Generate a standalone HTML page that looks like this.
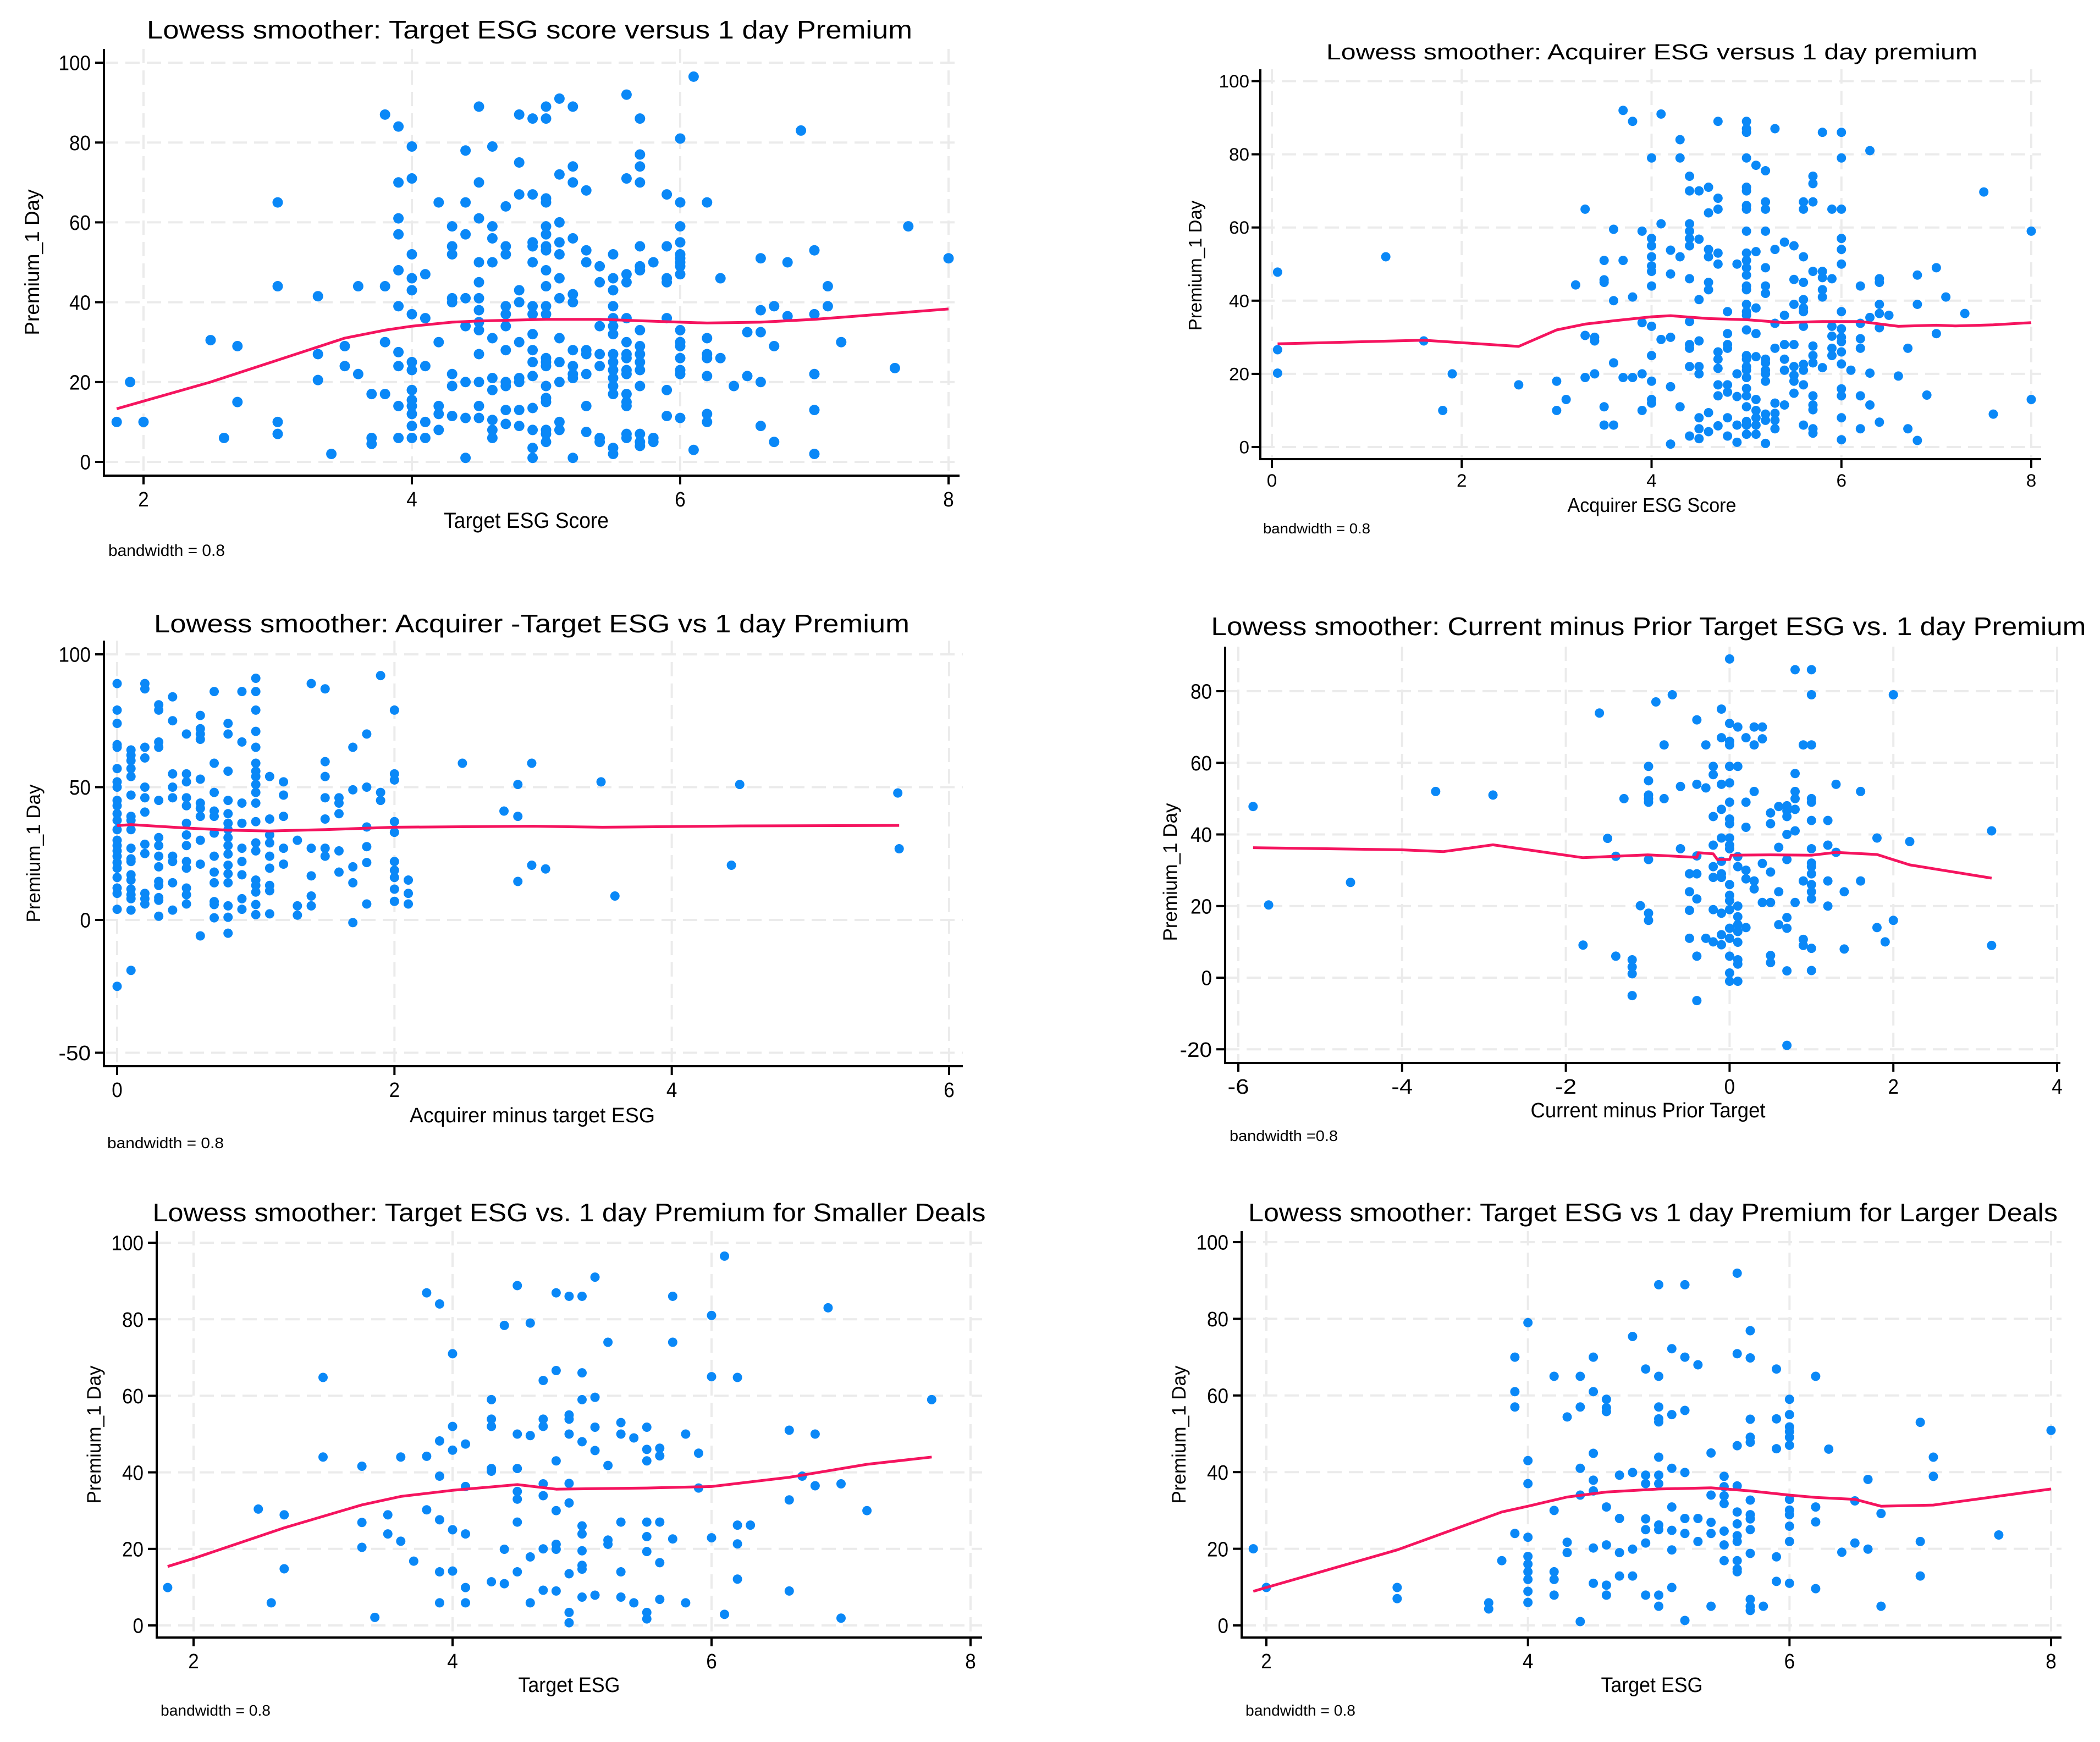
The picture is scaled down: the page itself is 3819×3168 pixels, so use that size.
<!DOCTYPE html>
<html><head><meta charset="utf-8"><title>Lowess smoother panels</title>
<style>
html,body{margin:0;padding:0;background:#fff;}
svg{display:block;font-family:"Liberation Sans",sans-serif;}
</style></head>
<body>
<svg id="fig" xmlns="http://www.w3.org/2000/svg" width="3819" height="3168" viewBox="0 0 3819 3168">
<rect x="0" y="0" width="3819" height="3168" fill="#fff"/>
<g id="layer"></g>

<text x="963" y="70" font-size="46" text-anchor="middle" textLength="1392" lengthAdjust="spacingAndGlyphs">Lowess smoother:  Target ESG score versus 1 day Premium</text>
<text x="957" y="960" font-size="40" text-anchor="middle" textLength="300" lengthAdjust="spacingAndGlyphs">Target ESG Score</text>
<text transform="translate(71,477) rotate(-90)" font-size="37" text-anchor="middle">Premium_1 Day</text>
<text x="197" y="1011" font-size="30" textLength="212" lengthAdjust="spacingAndGlyphs">bandwidth = 0.8</text>

<text x="3004" y="108" font-size="40" text-anchor="middle" textLength="1184" lengthAdjust="spacingAndGlyphs">Lowess smoother:  Acquirer ESG versus 1 day premium</text>
<text x="3004" y="931" font-size="36" text-anchor="middle" textLength="307" lengthAdjust="spacingAndGlyphs">Acquirer ESG Score</text>
<text transform="translate(2185,483) rotate(-90)" font-size="33" text-anchor="middle">Premium_1 Day</text>
<text x="2297" y="970" font-size="26" textLength="195" lengthAdjust="spacingAndGlyphs">bandwidth = 0.8</text>

<text x="967" y="1150" font-size="46" text-anchor="middle" textLength="1374" lengthAdjust="spacingAndGlyphs">Lowess smoother:  Acquirer -Target ESG vs 1 day Premium</text>
<text x="968" y="2041" font-size="38" text-anchor="middle" textLength="446" lengthAdjust="spacingAndGlyphs">Acquirer minus target ESG</text>
<text transform="translate(73,1552) rotate(-90)" font-size="35" text-anchor="middle">Premium_1 Day</text>
<text x="195" y="2088" font-size="28" textLength="212" lengthAdjust="spacingAndGlyphs">bandwidth = 0.8</text>

<text x="2998" y="1155" font-size="46" text-anchor="middle" textLength="1591" lengthAdjust="spacingAndGlyphs">Lowess smoother:  Current minus Prior Target ESG vs. 1 day Premium</text>
<text x="2997" y="2032" font-size="38" text-anchor="middle" textLength="427" lengthAdjust="spacingAndGlyphs">Current minus Prior Target</text>
<text transform="translate(2140,1586) rotate(-90)" font-size="35" text-anchor="middle">Premium_1 Day</text>
<text x="2236" y="2075" font-size="28" textLength="197" lengthAdjust="spacingAndGlyphs">bandwidth =0.8</text>

<text x="1035" y="2221" font-size="46" text-anchor="middle" textLength="1515" lengthAdjust="spacingAndGlyphs">Lowess smoother:  Target ESG vs. 1 day Premium for Smaller Deals</text>
<text x="1035" y="3077" font-size="38" text-anchor="middle" textLength="185" lengthAdjust="spacingAndGlyphs">Target ESG</text>
<text transform="translate(183,2609) rotate(-90)" font-size="35" text-anchor="middle">Premium_1 Day</text>
<text x="292" y="3120" font-size="28" textLength="200" lengthAdjust="spacingAndGlyphs">bandwidth = 0.8</text>

<text x="3006" y="2221" font-size="46" text-anchor="middle" textLength="1472" lengthAdjust="spacingAndGlyphs">Lowess smoother:  Target ESG vs 1 day Premium for Larger Deals</text>
<text x="3004" y="3077" font-size="38" text-anchor="middle" textLength="185" lengthAdjust="spacingAndGlyphs">Target ESG</text>
<text transform="translate(2156,2609) rotate(-90)" font-size="35" text-anchor="middle">Premium_1 Day</text>
<text x="2265" y="3120" font-size="28" textLength="200" lengthAdjust="spacingAndGlyphs">bandwidth = 0.8</text>
</svg>

<script>
// ---------- DATA ----------
const p1XTicks = [2,4,6,8];
const p1YTicks = [0,20,40,60,80,100];
const p1Points = [[1.8,10],[1.9,20],[2,10],[2.5,30.5],[2.6,6],[2.7,29],[2.7,15],[3,65],[3,44],[3,10],[3,7],[3.3,41.5],[3.3,27],[3.3,20.5],[3.4,2],[3.5,29],[3.5,24],[3.6,44],[3.6,22],[3.7,17],[3.7,6],[3.7,4.5],[3.8,87],[3.8,44],[3.8,30],[3.8,17],[3.9,84],[3.9,70],[3.9,61],[3.9,57],[3.9,48],[3.9,39],[3.9,27.5],[3.9,24],[3.9,14],[3.9,6],[4,79],[4,71],[4,52],[4,46],[4,43],[4,37],[4,25],[4,23],[4,18],[4,15.5],[4,14],[4,12],[4,9],[4,6],[4.1,47],[4.1,36],[4.1,24],[4.1,10],[4.1,6],[4.2,65],[4.2,30],[4.2,14],[4.2,12],[4.2,8],[4.3,59],[4.3,54],[4.3,52],[4.3,41],[4.3,40],[4.3,22],[4.3,19],[4.3,11.5],[4.4,78],[4.4,65],[4.4,57],[4.4,41],[4.4,34],[4.4,20],[4.4,11],[4.4,1],[4.5,89],[4.5,70],[4.5,61],[4.5,50],[4.5,45],[4.5,41],[4.5,38],[4.5,35],[4.5,33],[4.5,27],[4.5,20],[4.5,14],[4.5,11],[4.6,79],[4.6,59],[4.6,56],[4.6,50],[4.6,31],[4.6,21],[4.6,18],[4.6,10.5],[4.6,8],[4.6,6],[4.7,64],[4.7,54],[4.7,52],[4.7,39],[4.7,37],[4.7,34],[4.7,28],[4.7,20],[4.7,19],[4.7,13],[4.7,9.5],[4.8,87],[4.8,75],[4.8,67],[4.8,43],[4.8,40],[4.8,30],[4.8,21],[4.8,20],[4.8,13],[4.8,9],[4.9,86],[4.9,67],[4.9,55],[4.9,54],[4.9,50],[4.9,39],[4.9,37],[4.9,32],[4.9,28],[4.9,25],[4.9,21.5],[4.9,13.5],[4.9,8],[4.9,3.5],[4.9,1],[5,89],[5,86],[5,66],[5,65],[5,59],[5,57],[5,54],[5,53],[5,48],[5,44],[5,39],[5,37],[5,26],[5,25],[5,24],[5,19],[5,16],[5,15],[5,8],[5,7],[5,5],[5.1,91],[5.1,72],[5.1,60],[5.1,55],[5.1,52],[5.1,46],[5.1,41],[5.1,31],[5.1,25],[5.1,20],[5.1,10],[5.1,8],[5.2,89],[5.2,74],[5.2,70],[5.2,56],[5.2,42],[5.2,40],[5.2,28],[5.2,24],[5.2,22],[5.2,21],[5.2,1],[5.3,68],[5.3,53],[5.3,50],[5.3,28],[5.3,27],[5.3,22],[5.3,14],[5.3,7.5],[5.4,49],[5.4,45],[5.4,34],[5.4,27],[5.4,24],[5.4,6],[5.4,5],[5.5,52],[5.5,46],[5.5,43],[5.5,39],[5.5,36],[5.5,34],[5.5,32],[5.5,27],[5.5,25],[5.5,23],[5.5,21],[5.5,19],[5.5,17],[5.5,3.5],[5.5,2],[5.6,92],[5.6,71],[5.6,47],[5.6,45],[5.6,36],[5.6,30],[5.6,27],[5.6,26],[5.6,23],[5.6,22],[5.6,17],[5.6,15],[5.6,14],[5.6,7],[5.6,6],[5.7,86],[5.7,77],[5.7,74],[5.7,70],[5.7,54],[5.7,49],[5.7,48],[5.7,33],[5.7,29],[5.7,27],[5.7,25],[5.7,23],[5.7,19],[5.7,7],[5.7,5],[5.7,4],[5.8,50],[5.8,6],[5.8,5],[5.9,67],[5.9,54],[5.9,46],[5.9,45],[5.9,36],[5.9,18],[5.9,11.5],[6,81],[6,65],[6,59],[6,55],[6,52],[6,51],[6,50],[6,49],[6,47],[6,33],[6,30],[6,29],[6,26],[6,23],[6,22],[6,11],[6.1,96.5],[6.1,3],[6.2,65],[6.2,31],[6.2,27],[6.2,26],[6.2,21.5],[6.2,12],[6.2,10],[6.3,46],[6.3,26],[6.4,19],[6.5,32.5],[6.5,21.5],[6.6,51],[6.6,38],[6.6,32.5],[6.6,20],[6.6,9],[6.7,39],[6.7,29],[6.7,5],[6.8,50],[6.8,36.5],[6.9,83],[7,53],[7,37],[7,22],[7,13],[7,2],[7.1,44],[7.1,39],[7.2,30],[7.6,23.5],[7.7,59],[8,51]];
const p1Lowess = [[1.8,13.3],[2.5,20],[3,25.5],[3.5,31],[3.8,33],[4,34],[4.3,35],[4.5,35.3],[5,35.7],[5.4,35.7],[6,35],[6.2,34.8],[6.6,35],[7,35.7],[7.5,37],[8,38.3]];

const p2XTicks = [0,2,4,6,8];
const p2YTicks = [0,20,40,60,80,100];
const p2Points = [[0.06,47.8],[0.06,26.6],[0.06,20.2],[1.2,52],[1.6,29],[1.9,20],[1.8,10],[2.6,17],[3,18],[3,10],[3.1,13],[3.2,44.3],[3.3,65],[3.3,30.5],[3.3,19],[3.4,30],[3.4,29],[3.4,20],[3.5,51],[3.5,45.7],[3.5,45],[3.5,11],[3.5,6],[3.6,59.5],[3.6,40],[3.6,23],[3.6,6],[3.7,92],[3.7,51],[3.7,19],[3.8,89],[3.8,41],[3.8,19],[3.9,59],[3.9,34],[3.9,20],[3.9,10],[4,79],[4,57],[4,55],[4,52],[4,49.5],[4,48],[4,44],[4,33],[4,25],[4,18],[4,13],[4,12],[4.1,91],[4.1,61],[4.1,29.4],[4.2,53.8],[4.2,47.3],[4.2,30],[4.2,16.5],[4.2,0.8],[4.3,84],[4.3,79],[4.3,52],[4.3,11],[4.4,74],[4.4,70],[4.4,61],[4.4,59],[4.4,57],[4.4,55],[4.4,46],[4.4,34.3],[4.4,28],[4.4,27],[4.4,22],[4.4,3],[4.5,70],[4.5,56.8],[4.5,40.3],[4.5,29],[4.5,22],[4.5,20],[4.5,8],[4.5,5],[4.5,2.3],[4.6,71],[4.6,64],[4.6,54],[4.6,52],[4.6,45],[4.6,43],[4.6,9.4],[4.6,4.2],[4.7,89],[4.7,68],[4.7,65],[4.7,53],[4.7,50],[4.7,26],[4.7,24],[4.7,21.5],[4.7,17],[4.7,14],[4.7,5.8],[4.8,37],[4.8,31],[4.8,28],[4.8,27],[4.8,17],[4.8,15],[4.8,8],[4.8,3],[4.9,50],[4.9,20],[4.9,13.8],[4.9,6],[4.9,1.3],[5,89],[5,87],[5,86],[5,79],[5,71],[5,70],[5,66],[5,65],[5,59],[5,53],[5,51],[5,49],[5,47],[5,44],[5,43],[5,39],[5,37],[5,36],[5,32],[5,25],[5,24],[5,22],[5,21],[5,19],[5,16],[5,14],[5,11],[5,7],[5,6],[5,3.5],[5.1,77],[5.1,53.4],[5.1,38],[5.1,31],[5.1,24.7],[5.1,13],[5.1,10],[5.1,8],[5.1,6],[5.1,3.5],[5.2,75.5],[5.2,67],[5.2,65],[5.2,59],[5.2,49],[5.2,44],[5.2,42],[5.2,24],[5.2,23],[5.2,21],[5.2,20],[5.2,18],[5.2,9],[5.2,7.3],[5.2,1],[5.3,87],[5.3,54],[5.3,33.8],[5.3,27],[5.3,12],[5.3,9.2],[5.3,7.3],[5.3,5],[5.4,56],[5.4,36],[5.4,28],[5.4,24],[5.4,21],[5.4,11.5],[5.5,55],[5.5,45.8],[5.5,39],[5.5,28],[5.5,22],[5.5,19.6],[5.5,18],[5.5,14.7],[5.6,67],[5.6,65],[5.6,52],[5.6,45],[5.6,40.3],[5.6,38],[5.6,37],[5.6,33],[5.6,22.6],[5.6,21],[5.6,17],[5.6,6],[5.7,74],[5.7,72],[5.7,67],[5.7,48],[5.7,27.6],[5.7,25],[5.7,23],[5.7,14],[5.7,11.5],[5.7,10.2],[5.7,5],[5.7,3.8],[5.8,86],[5.8,48],[5.8,46.3],[5.8,43],[5.8,41],[5.8,21.7],[5.9,65],[5.9,46],[5.9,33],[5.9,30.3],[5.9,27],[5.9,25],[6,86],[6,79],[6,65],[6,57],[6,54],[6,50],[6,37],[6,32.3],[6,30],[6,28.8],[6,26],[6,22.7],[6,15.9],[6,14],[6,8],[6,2],[6.1,21],[6.2,44],[6.2,33.8],[6.2,29.6],[6.2,27],[6.2,14],[6.2,5],[6.3,81],[6.3,35.4],[6.3,20.2],[6.3,11.5],[6.4,46],[6.4,45],[6.4,39],[6.4,36.5],[6.4,32.6],[6.4,6.8],[6.5,36],[6.6,19.4],[6.7,27],[6.7,5],[6.8,47],[6.8,39],[6.8,1.8],[6.9,14.2],[7,49],[7,31],[7.1,41],[7.3,36.5],[7.5,69.7],[7.6,9],[8,59],[8,13]];
const p2Lowess = [[0.06,28.2],[1,28.8],[1.6,29.2],[2.6,27.5],[3,32],[3.3,33.6],[3.6,34.5],[4,35.6],[4.2,35.9],[4.6,35.1],[5,34.8],[5.4,34],[5.8,34.3],[6.2,34.3],[6.6,33],[7,33.3],[7.2,33.1],[7.6,33.4],[8,34]];

const p3XTicks = [0,2,4,6];
const p3YTicks = [-50,0,50,100];
const p3Points = [[0,89],[0,79],[0,74],[0,66],[0,65],[0,57],[0,52],[0,50],[0,45],[0,43],[0,40],[0,37.5],[0,34],[0,30],[0,28],[0,26],[0,24],[0,21.6],[0,19.5],[0,16],[0,12],[0,10],[0,4],[0,-25],[0.1,64],[0.1,62],[0.1,60],[0.1,57],[0.1,54],[0.1,47],[0.1,39],[0.1,37.5],[0.1,34],[0.1,27],[0.1,23],[0.1,22],[0.1,17],[0.1,15],[0.1,11.6],[0.1,9.5],[0.1,8],[0.1,3.7],[0.1,-19],[0.2,89],[0.2,87],[0.2,65],[0.2,61],[0.2,50],[0.2,46],[0.2,40.6],[0.2,28.5],[0.2,25],[0.2,10],[0.2,8],[0.2,6],[0.3,81],[0.3,79],[0.3,67],[0.3,65],[0.3,45],[0.3,31],[0.3,28],[0.3,24],[0.3,20],[0.3,14.5],[0.3,13],[0.3,8.4],[0.3,7.4],[0.3,1.4],[0.4,84],[0.4,75],[0.4,55],[0.4,50],[0.4,46],[0.4,24],[0.4,22],[0.4,14],[0.4,3.7],[0.5,70],[0.5,55],[0.5,52],[0.5,46],[0.5,43],[0.5,36.4],[0.5,32],[0.5,28],[0.5,22],[0.5,19.5],[0.5,12],[0.5,9.5],[0.5,6],[0.6,-6],[0.6,77],[0.6,72],[0.6,70],[0.6,68],[0.6,53],[0.6,44],[0.6,42],[0.6,39],[0.6,30],[0.6,21],[0.7,86],[0.7,59],[0.7,48],[0.7,41],[0.7,39],[0.7,32.7],[0.7,24],[0.7,18],[0.7,14],[0.7,6.9],[0.7,5.8],[0.7,0.8],[0.8,74],[0.8,70],[0.8,56],[0.8,45],[0.8,40],[0.8,36.4],[0.8,34],[0.8,31],[0.8,28],[0.8,24.8],[0.8,20.6],[0.8,17.4],[0.8,14],[0.8,5.3],[0.8,1],[0.8,-5],[0.9,86],[0.9,67],[0.9,44],[0.9,36.4],[0.9,27],[0.9,22],[0.9,17],[0.9,8],[0.9,4],[1,91],[1,86],[1,79],[1,71],[1,65],[1,59],[1,56],[1,54],[1,51],[1,48],[1,44],[1,37],[1,29],[1,26],[1,15],[1,13],[1,10.5],[1,5.8],[1,2],[1.1,54],[1.1,38],[1.1,32],[1.1,29],[1.1,24],[1.1,19.5],[1.1,13],[1.1,11],[1.1,2.3],[1.2,52],[1.2,47],[1.2,39],[1.2,27],[1.2,21],[1.3,30],[1.3,5.3],[1.3,1.8],[1.4,89],[1.4,27],[1.4,16.6],[1.4,9],[1.4,5.3],[1.5,87],[1.5,59.6],[1.5,54],[1.5,46],[1.5,38],[1.5,27],[1.5,24],[1.6,46],[1.6,44],[1.6,40],[1.6,26],[1.6,18],[1.7,65],[1.7,49],[1.7,20],[1.7,14],[1.7,-1],[1.8,70],[1.8,50],[1.8,35],[1.8,27.6],[1.8,21.6],[1.8,6],[1.9,92],[1.9,48],[1.9,45],[2,79],[2,55],[2,52.7],[2,37],[2,33],[2,22],[2,18.7],[2,16],[2,11.6],[2,7],[2.1,15],[2.1,10],[2.1,6],[2.49,59],[2.99,59],[2.79,41],[2.89,51],[2.89,39],[2.89,14.5],[2.99,20.6],[3.09,19.2],[3.49,52],[3.59,9],[4.49,51],[4.43,20.6],[5.63,47.8],[5.64,26.8]];
const p3Lowess = [[0,35.5],[0.1,35.9],[0.5,34.6],[0.8,33.8],[1.1,33.5],[1.5,34],[2,34.9],[3,35.3],[3.5,34.9],[4.5,35.4],[5.64,35.6]];

const p4XTicks = [-6,-4,-2,0,2,4];
const p4YTicks = [-20,0,20,40,60,80];
const p4Points = [[-5.82,47.8],[-5.63,20.3],[-4.63,26.6],[-3.59,52],[-2.89,51],[-1.79,9.1],[-1.59,73.9],[-1.49,38.9],[-1.39,33.9],[-1.39,6],[-1.29,50],[-1.19,5],[-1.19,3],[-1.19,1.1],[-1.19,-5],[-1.09,20.1],[-0.99,59],[-0.99,55],[-0.99,51],[-0.99,50],[-0.99,49],[-0.99,33],[-0.99,18],[-0.99,16],[-0.9,77],[-0.8,65],[-0.8,50],[-0.7,79],[-0.6,53.4],[-0.6,36],[-0.49,29],[-0.49,24],[-0.49,18.8],[-0.49,11],[-0.4,72],[-0.4,54],[-0.4,34],[-0.4,29],[-0.4,22],[-0.4,6],[-0.4,-6.4],[-0.29,65],[-0.29,53],[-0.29,11],[-0.2,59],[-0.2,56.7],[-0.2,45],[-0.2,37],[-0.2,31],[-0.2,28],[-0.2,19],[-0.2,10],[-0.1,75],[-0.1,67],[-0.1,54],[-0.1,47],[-0.1,39],[-0.1,32.5],[-0.1,29],[-0.1,28],[-0.1,18],[-0.1,12],[-0.1,9.2],[0,89],[0,71],[0,66],[0,65],[0,59],[0,54.4],[0,49],[0,44.3],[0,43],[0,39],[0,37],[0,36],[0,26],[0,23],[0,21.5],[0,19],[0,13.8],[0,11],[0,6],[0,1.3],[0,-1],[0.1,70],[0.1,59],[0.1,33.8],[0.1,31],[0.1,20],[0.1,17],[0.1,14.8],[0.1,12.9],[0.1,9.9],[0.1,5],[0.1,3.8],[0.1,-1],[0.2,67],[0.2,49],[0.2,42],[0.2,30],[0.2,27.6],[0.2,14],[0.3,70],[0.3,65],[0.3,52],[0.3,27],[0.3,24.8],[0.4,70],[0.4,66.7],[0.4,31.9],[0.4,21],[0.5,46],[0.5,43],[0.5,29.5],[0.5,21],[0.5,6.2],[0.5,4.2],[0.6,47.8],[0.6,36.4],[0.6,24],[0.6,14.8],[0.7,48],[0.7,46.6],[0.7,45],[0.7,40],[0.7,33],[0.7,16.8],[0.7,13.8],[0.7,1.9],[0.7,-18.9],[0.8,86],[0.8,57],[0.8,52],[0.8,50],[0.8,47],[0.8,41],[0.8,21],[0.9,65],[0.9,27],[0.9,10.7],[0.9,9],[1,86],[1,79],[1,65],[1,50],[1,49],[1,43.9],[1,36],[1,32],[1,31],[1,29],[1,26],[1,24],[1,22],[1,8.2],[1,2],[1.2,43.9],[1.2,37],[1.2,27],[1.2,20],[1.3,54],[1.3,35],[1.4,24],[1.4,8],[1.6,52],[1.6,27],[1.8,39],[1.8,14],[1.9,10],[2,79],[2,16],[2.2,38],[3.2,41],[3.2,9]];
const p4Lowess = [[-5.82,36.3],[-4,35.7],[-3.5,35.2],[-2.89,37.1],[-1.79,33.5],[-1,34.3],[-0.4,33.6],[-0.38,34.9],[-0.2,34.6],[-0.15,33],[0,33],[0.02,34.2],[0.5,34.3],[1,34.2],[1.3,35],[1.8,34.4],[2.2,31.5],[3.2,27.8]];

const p5XTicks = [2,4,6,8];
const p5YTicks = [0,20,40,60,80,100];
const p5Points = [[1.8,9.9],[2.5,30.4],[2.6,5.9],[2.7,28.9],[2.7,14.8],[3,64.8],[3,44],[3.3,41.6],[3.3,26.9],[3.3,20.4],[3.4,2.1],[3.5,28.9],[3.5,23.9],[3.6,44],[3.6,22],[3.7,16.8],[3.8,86.9],[3.8,44.2],[3.8,30.2],[3.9,84],[3.9,48.2],[3.9,39],[3.9,27.6],[3.9,14],[3.9,5.9],[4,71],[4,52],[4,45.8],[4,25],[4,14.2],[4.1,47.4],[4.1,36.3],[4.1,23.9],[4.1,9.9],[4.1,5.9],[4.3,59],[4.3,53.9],[4.3,52],[4.3,41],[4.3,40.3],[4.3,11.4],[4.4,78.4],[4.4,19.9],[4.4,10.9],[4.5,88.8],[4.5,50],[4.5,41],[4.5,35],[4.5,33],[4.5,27],[4.5,14],[4.6,79],[4.6,49.6],[4.6,17.9],[4.6,5.9],[4.7,64],[4.7,53.9],[4.7,52],[4.7,37],[4.7,33.9],[4.7,20],[4.7,9.2],[4.8,86.9],[4.8,66.6],[4.8,43],[4.8,30],[4.8,21.2],[4.8,19.9],[4.8,9],[4.9,86],[4.9,55],[4.9,53.9],[4.9,50],[4.9,37.1],[4.9,32],[4.9,13.5],[4.9,3.4],[4.9,0.7],[5,86],[5,66],[5,59],[5,48],[5,26],[5,23.9],[5,19.5],[5,15.7],[5,14.7],[5,7.4],[5.1,91],[5.1,59.6],[5.1,51.8],[5.1,45.7],[5.1,7.9],[5.2,74],[5.2,41.8],[5.2,22.3],[5.2,21.2],[5.3,53],[5.3,50],[5.3,27],[5.3,14],[5.3,7.4],[5.4,49],[5.4,5.9],[5.5,51.8],[5.5,46],[5.5,43],[5.5,27],[5.5,23.2],[5.5,19.3],[5.5,3.4],[5.5,1.7],[5.6,46.3],[5.6,44.3],[5.6,27],[5.6,16.4],[5.6,6.8],[5.7,86],[5.7,74],[5.7,22.6],[5.8,50],[5.8,5.9],[5.9,45],[5.9,35.9],[6,81],[6,65],[6,22.9],[6.1,96.5],[6.1,2.9],[6.2,64.8],[6.2,26.2],[6.2,21.3],[6.2,12.1],[6.3,26.2],[6.6,51],[6.6,32.8],[6.6,9],[6.7,39],[6.8,50],[6.8,36.5],[6.9,83],[7,37],[7,1.9],[7.2,30],[7.7,59]];
const p5Lowess = [[1.8,15.4],[2,17.5],[2.7,25.5],[3.3,31.5],[3.6,33.7],[4,35.3],[4.5,36.8],[4.8,35.6],[5.5,35.9],[6,36.3],[6.6,38.7],[7.2,42.1],[7.7,44]];

const p6XTicks = [2,4,6,8];
const p6YTicks = [0,20,40,60,80,100];
const p6Points = [[1.9,20],[2,9.9],[3,9.9],[3,7],[3.7,5.9],[3.7,4.3],[3.8,16.9],[3.9,70],[3.9,61],[3.9,57],[3.9,24],[4,79],[4,43],[4,37],[4,23],[4,18],[4,16],[4,14],[4,12],[4,8.9],[4,6],[4.2,65],[4.2,30],[4.2,14],[4.2,12],[4.2,7.9],[4.3,54.4],[4.3,21.7],[4.3,19],[4.4,65],[4.4,57],[4.4,41],[4.4,34],[4.4,1],[4.5,70],[4.5,61],[4.5,44.9],[4.5,37.9],[4.5,35.1],[4.5,20.2],[4.5,11],[4.6,59],[4.6,56.8],[4.6,55.8],[4.6,30.9],[4.6,21],[4.6,10.5],[4.6,7.9],[4.7,39.2],[4.7,27.9],[4.7,19],[4.7,12.9],[4.8,75.4],[4.8,39.9],[4.8,19.9],[4.8,12.9],[4.9,66.9],[4.9,39.2],[4.9,37],[4.9,27.8],[4.9,25],[4.9,21.5],[4.9,7.9],[5,88.9],[5,65],[5,57],[5,53.9],[5,53.1],[5,43.9],[5,39.2],[5,37],[5,26.2],[5,25],[5,7.9],[5,5],[5.1,72.2],[5.1,55],[5.1,41],[5.1,30.9],[5.1,24.8],[5.1,19.7],[5.1,9.9],[5.2,88.9],[5.2,70],[5.2,56.1],[5.2,39.9],[5.2,27.9],[5.2,24],[5.2,1.3],[5.3,68],[5.3,27.9],[5.3,21.9],[5.4,45],[5.4,34],[5.4,26.9],[5.4,24],[5.4,5],[5.5,38.9],[5.5,36.2],[5.5,33.8],[5.5,31.8],[5.5,24.6],[5.5,21],[5.5,16.9],[5.6,91.9],[5.6,70.9],[5.6,46.9],[5.6,36.4],[5.6,29.6],[5.6,26.5],[5.6,23.4],[5.6,21.9],[5.6,16.9],[5.6,14.7],[5.6,14],[5.7,76.9],[5.7,69.8],[5.7,53.8],[5.7,49.1],[5.7,47.8],[5.7,32.7],[5.7,28.9],[5.7,27.8],[5.7,25],[5.7,18.8],[5.7,6.8],[5.7,5],[5.7,3.9],[5.8,5],[5.9,66.9],[5.9,53.9],[5.9,46.1],[5.9,17.9],[5.9,11.5],[6,59],[6,55],[6,51.8],[6,50.6],[6,49.1],[6,47],[6,32.9],[6,30.1],[6,28.9],[6,25.9],[6,21.9],[6,11],[6.2,65],[6.2,30.9],[6.2,27],[6.2,9.6],[6.3,46],[6.4,19.1],[6.5,32.5],[6.5,21.5],[6.6,38.1],[6.6,19.9],[6.7,29.2],[6.7,5],[7,53],[7,21.9],[7,12.9],[7.1,43.9],[7.1,38.9],[7.6,23.6],[8,50.9]];
const p6Lowess = [[1.9,8.9],[2,9.9],[3,19.7],[3.8,29.6],[4,31.1],[4.3,33.5],[4.6,34.8],[5,35.6],[5.4,35.9],[5.7,35.1],[6,34],[6.2,33.4],[6.5,32.9],[6.7,31.1],[7.1,31.4],[8,35.6]];

// ---------- LAYOUT (pixel geometry, not data) ----------
const panels = [
 {n:1, pts:p1Points, low:p1Lowess, xt:p1XTicks, yt:p1YTicks, xa:[2,261,8,1725], ya:[0,840,100,114], L:189, B:865, R:1745, T:89, r:9.5, fs:38, cw:19.5, xlOff:56, ylGap:24},
 {n:2, pts:p2Points, low:p2Lowess, xt:p2XTicks, yt:p2YTicks, xa:[0,2313,8,3694], ya:[0,813,100,147.5], L:2292, B:835, R:3712, T:126, r:8.5, fs:32, cw:18.5, xlOff:50, ylGap:20},
 {n:3, pts:p3Points, low:p3Lowess, xt:p3XTicks, yt:p3YTicks, xa:[0,213,6,1726], ya:[0,1673,100,1190], L:189, B:1939, R:1751, T:1165, r:8.5, fs:38, cw:19.5, xlOff:56, ylGap:24},
 {n:4, pts:p4Points, low:p4Lowess, xt:p4XTicks, yt:p4YTicks, xa:[-6,2252,4,3741], ya:[0,1778,80,1257], L:2228, B:1933, R:3747, T:1176, r:8.5, fs:38, cw:19.5, xlOff:56, ylGap:24},
 {n:5, pts:p5Points, low:p5Lowess, xt:p5XTicks, yt:p5YTicks, xa:[2,352,8,1765], ya:[0,2956,100,2260], L:285, B:2978, R:1786, T:2239, r:8.5, fs:38, cw:19.5, xlOff:56, ylGap:24},
 {n:6, pts:p6Points, low:p6Lowess, xt:p6XTicks, yt:p6YTicks, xa:[2,2303,8,3730], ya:[0,2956,100,2259], L:2258, B:2978, R:3749, T:2239, r:8.5, fs:38, cw:19.5, xlOff:56, ylGap:24}
];

const NS = 'http://www.w3.org/2000/svg';
const layer = document.getElementById('layer');
function mk(tag, attrs, parent){
  const e = document.createElementNS(NS, tag);
  for (const k in attrs) e.setAttribute(k, attrs[k]);
  parent.appendChild(e);
  return e;
}

panels.forEach(p => {
  const sx = v => p.xa[1] + (v - p.xa[0]) * (p.xa[3] - p.xa[1]) / (p.xa[2] - p.xa[0]);
  const sy = v => p.ya[1] + (v - p.ya[0]) * (p.ya[3] - p.ya[1]) / (p.ya[2] - p.ya[0]);
  const g = mk('g', {}, layer);
  
  

  const grid = mk('g', {stroke:'#ebebeb', 'stroke-width':4, 'stroke-dasharray':'26 13', fill:'none'}, g);
  
  
  p.yt.forEach(t => {
    const l = mk('line', {x1:p.L, x2:p.R, y1:sy(t), y2:sy(t)}, grid);
    
    
  });
  p.xt.forEach(t => {
    const l = mk('line', {x1:sx(t), x2:sx(t), y1:p.T, y2:p.B}, grid);
    
    
  });

  const pg = mk('g', {fill:'#0a88f7'}, g);
  
  
  p.pts.forEach(d => {
    const c = mk('circle', {cx:sx(d[0]), cy:sy(d[1]), r:p.r}, pg);
    
    
  });

  const path = p.low.map((d,i) => (i ? 'L' : 'M') + sx(d[0]).toFixed(1) + ' ' + sy(d[1]).toFixed(1)).join(' ');
  const ln = mk('path', {d:path, fill:'none', stroke:'#f5145f', 'stroke-width':5, 'stroke-linejoin':'round'}, g);
  
  

  const ax = mk('g', {stroke:'#000', 'stroke-width':4, fill:'none'}, g);
  
  
  const ya = mk('line', {x1:p.L, x2:p.L, y1:p.T, y2:p.B + 2}, ax);
  
  
  const xa = mk('line', {x1:p.L - 2, x2:p.R, y1:p.B, y2:p.B}, ax);
  
  

  p.yt.forEach(t => {
    const tk = mk('line', {x1:p.L - 16, x2:p.L, y1:sy(t), y2:sy(t)}, ax);
    
    
    const s = String(t);
    const tx = mk('text', {x:p.L - p.ylGap, y:sy(t) + p.fs * 0.36, 'font-size':p.fs, 'text-anchor':'end', fill:'#000', stroke:'none', textLength:s.length * p.cw, lengthAdjust:'spacingAndGlyphs'}, g);
    tx.textContent = s;
    
    
  });
  p.xt.forEach(t => {
    const tk = mk('line', {x1:sx(t), x2:sx(t), y1:p.B, y2:p.B + 16}, ax);
    
    
    const s = String(t);
    const tx = mk('text', {x:sx(t), y:p.B + p.xlOff, 'font-size':p.fs, 'text-anchor':'middle', fill:'#000', stroke:'none', textLength:s.length * p.cw, lengthAdjust:'spacingAndGlyphs'}, g);
    tx.textContent = s;
    
    
  });
});
</script>
</body></html>
